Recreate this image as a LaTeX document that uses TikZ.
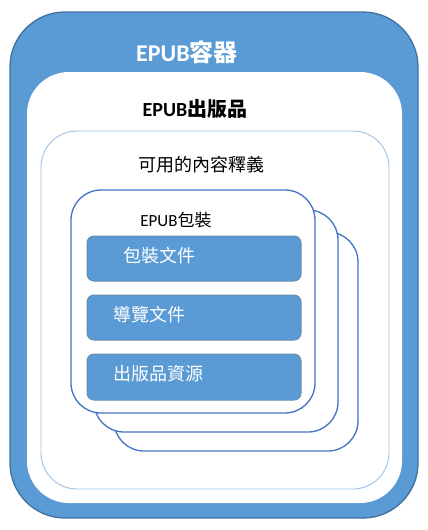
\documentclass[tikz,border=0pt]{standalone}
\usepackage{fontspec}
\setmainfont{Carlito}
\newfontfamily\cjk{Noto Sans CJK TC}
\definecolor{mblue}{HTML}{5B9BD5}
\definecolor{dblue}{HTML}{41719C}
\definecolor{pblue}{HTML}{4472C4}
\definecolor{lblue}{HTML}{9DC3E6}
\begin{document}
\begin{tikzpicture}[x=1pt,y=-1pt,
  container/.style={fill=mblue,draw=dblue,line width=1.3pt,rounded corners=55pt},
  pubbox/.style={fill=white,rounded corners=42pt},
  renditionbox/.style={draw=lblue,line width=0.9pt,rounded corners=36pt},
  pkgbox/.style={fill=white,draw=pblue,line width=1.3pt,rounded corners=30pt},
  itembox/.style={fill=mblue,draw=dblue!80,line width=1pt,rounded corners=7pt},
  itemtext/.style={text=white,font=\cjk\fontsize{18}{22}\selectfont,anchor=west,inner sep=0pt}]
\useasboundingbox (0,0) rectangle (428,530);
\draw[container] (10,12) rectangle (418,518);
\fill[pubbox] (27,72) rectangle (402,503);
\draw[renditionbox] (41,131) rectangle (389,489);
\draw[pkgbox] (114,232) rectangle (358,451);
\draw[pkgbox] (94,210) rectangle (338,432);
\draw[pkgbox] (71,190) rectangle (315,413);
\draw[itembox] (87,236) rectangle (301,281);
\draw[itembox] (87,295) rectangle (301,340);
\draw[itembox] (87,354) rectangle (301,400);
\node[text=white,font=\bfseries\fontsize{24}{28}\selectfont] (t1) at (187,52) {EPUB{\cjk 容器}};
\node[font=\bfseries\fontsize{20}{24}\selectfont] (t2) at (195,109) {EPUB{\cjk 出版品}};
\node[font=\cjk\fontsize{18}{22}\selectfont] (t3) at (201,165) {可用的內容釋義};
\node[font=\fontsize{17}{20}\selectfont] (t4) at (176,220) {EPUB{\cjk 包裝}};
\node[itemtext] (i1) at (123,256) {包裝文件};
\node[itemtext] (i2) at (113,315) {導覽文件};
\node[itemtext] (i3) at (113,374) {出版品資源};
\end{tikzpicture}
\end{document}
